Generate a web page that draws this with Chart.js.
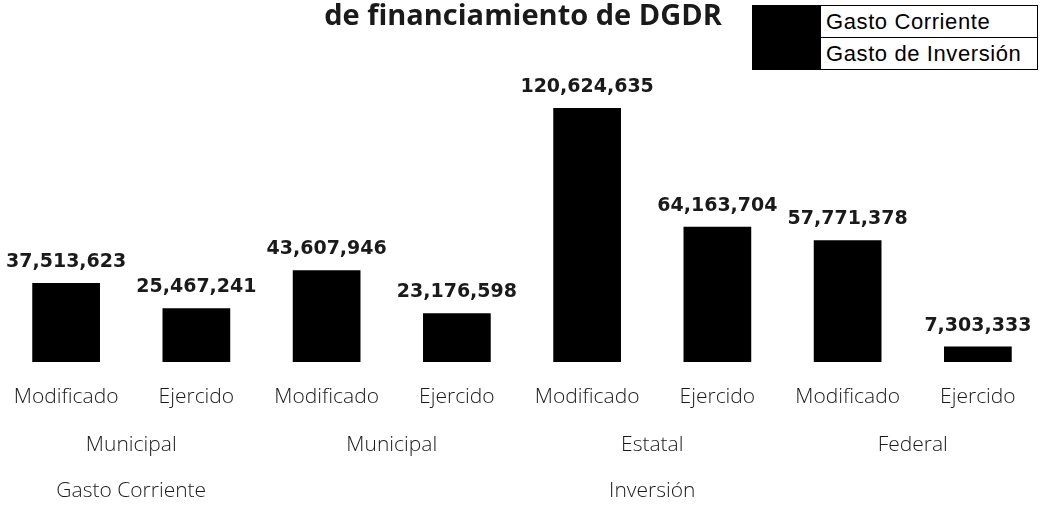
<!DOCTYPE html>
<html>
<head>
<meta charset="utf-8">
<script src="https://cdn.jsdelivr.net/npm/chart.js@4"></script>
<style>
  html,body{margin:0;padding:0;background:#fff;}
  #wrap{position:relative;width:1049px;height:509px;}
  #title{position:absolute;left:0;top:0;width:1046px;text-align:center;font:bold 29px/28px "Open Sans",sans-serif;color:#1a1a1a;}
  #legend{position:absolute;left:752px;top:5px;width:284px;height:63px;border:1px solid #000;display:flex;background:#fff;}
  #legend .sw{width:68px;background:#000;}
  #legend .rows{flex:1;display:flex;flex-direction:column;}
  #legend .row{flex:1;font:22px "Liberation Sans",Arial,sans-serif;letter-spacing:0.6px;color:#000;padding-left:5px;display:flex;align-items:center;white-space:nowrap;}
  #legend .row + .row{border-top:1px solid #000;}
</style>
</head>
<body>
<div id="wrap">
  <canvas id="c"></canvas>
  <div id="title">de financiamiento de DGDR</div>
  <div id="legend"><div class="sw"></div><div class="rows"></div></div>
</div>
<script>
const $ = s => document.querySelector(s);

// categorías y series
const categories = ['Modificado','Ejercido','Modificado','Ejercido','Modificado','Ejercido','Modificado','Ejercido'];
const groupLabels = ['Municipal','Municipal','Estatal','Federal'];   // 2 categorías cada uno
const topLabels = ['Gasto Corriente','Inversión'];
const topSpans = [1, 3];                                              // grupos que abarca cada uno
const gastoCorriente = [37513623, 25467241, null, null, null, null, null, null];
const gastoInversion = [null, null, 43607946, 23176598, 120624635, 64163704, 57771378, 7303333];
const seriesLabels = ['Gasto Corriente','Gasto de Inversión'];

const TXT = '#1a1a1a';
const LABEL_FONT = '300 21px "Open Sans", "Noto Sans", sans-serif';

const extraLabels = {
  id:'extraLabels',
  afterDraw(chart){
    const {ctx} = chart;
    const xs = chart.scales.x;
    ctx.save();
    // valores sobre las barras
    ctx.font = 'bold 19px "DejaVu Sans", sans-serif';
    ctx.fillStyle = TXT;
    ctx.textAlign = 'center';
    ctx.textBaseline = 'alphabetic';
    chart.data.datasets.forEach((ds, di) => {
      chart.getDatasetMeta(di).data.forEach((bar, i) => {
        const v = ds.data[i];
        if (v == null) return;
        ctx.fillText(v.toLocaleString('en-US'), bar.x, bar.y - 16);
      });
    });
    // segundo nivel
    ctx.font = LABEL_FONT;
    ctx.textBaseline = 'middle';
    groupLabels.forEach((g, gi) => {
      const cx = (xs.getPixelForValue(gi*2) + xs.getPixelForValue(gi*2+1)) / 2;
      ctx.fillText(g, cx, 445);
    });
    // tercer nivel
    let start = 0;
    topLabels.forEach((t, ti) => {
      const end = start + topSpans[ti] - 1;
      const cx = (xs.getPixelForValue(start*2) + xs.getPixelForValue(end*2+1)) / 2;
      ctx.fillText(t, cx, 491);
      start = end + 1;
    });
    ctx.restore();
  }
};

const chart = new Chart($('#c'), {
  type:'bar',
  data:{
    labels: categories,
    datasets:[
      { label: seriesLabels[0], data: gastoCorriente, backgroundColor:'#000', barPercentage:0.52, categoryPercentage:1 },
      { label: seriesLabels[1], data: gastoInversion, backgroundColor:'#000', barPercentage:0.52, categoryPercentage:1 }
    ]
  },
  options:{
    responsive:true, maintainAspectRatio:false, animation:false,
    layout:{ padding:{ left:1, right:6, top:46, bottom:0 } },
    scales:{
      x:{
        stacked:true,
        grid:{ display:false, drawTicks:true, tickLength:22 }, border:{ display:false },
        ticks:{ color:TXT, font:{ family:'"Open Sans", "Noto Sans", sans-serif', size:21, weight:'300' }, padding:0, maxRotation:0, autoSkip:false },
        afterFit(scale){ scale.height = 147; }
      },
      y:{ stacked:true, display:false, min:0, max:150000000 }
    },
    plugins:{
      legend:{ display:false },
      tooltip:{ enabled:false },
      title:{ display:false }
    }
  },
  plugins:[extraLabels]
});

// leyenda
$('#legend .rows').innerHTML = chart.data.datasets.map(d => `<div class="row">${d.label}</div>`).join('');
</script>
</body>
</html>
